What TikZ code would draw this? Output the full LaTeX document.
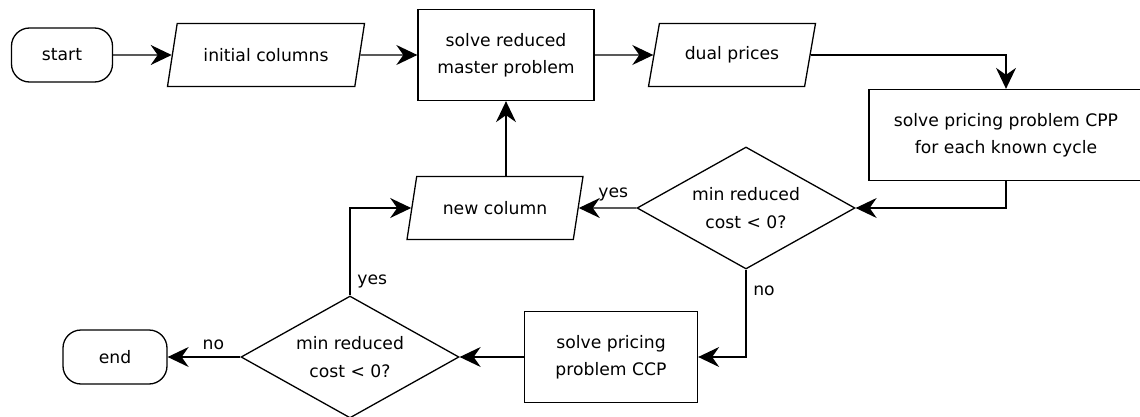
\documentclass[tikz,border=0pt]{standalone}
\usepackage{fontspec}
\setmainfont{DejaVu Sans}
\usetikzlibrary{shapes.geometric,arrows.meta,positioning}

\begin{document}
\begin{tikzpicture}[x=0.5pt, y=-0.5pt, line width=0.65pt,
  font=\fontsize{8.6}{13.7}\selectfont,
  terminal/.style = {draw, rounded corners=9pt, minimum width=50.5pt, minimum height=27pt},
  process/.style = {draw, minimum width=88pt, minimum height=45.5pt, align=center},
  io/.style = {draw, trapezium, trapezium left angle=70, trapezium right angle=110,
    trapezium stretches body, minimum height=31.5pt},
  decision/.style = {draw, diamond, aspect=1.8, inner sep=0pt, minimum width=109pt,
    minimum height=61pt, align=center},
  flow/.style = {-{Stealth[length=10.5pt, width=10pt, inset=3.5pt]}}]
\useasboundingbox (0,0) rectangle (1140,417);
\node [terminal] (start) at (62,55) {start};
\node [io, minimum width=98.5pt] (init) at (266,55) {initial columns};
\node [process] (master) at (506,55) {solve reduced\\master problem};
\node [io, minimum width=83.5pt] (dual) at (732,55) {dual prices};
\node [process, minimum width=137pt] (cpp) at (1006,135) {solve pricing problem CPP\\for each known cycle};
\node [decision] (dec1) at (746,208) {min reduced\\cost < 0?};
\node [io, minimum width=88pt] (newcol) at (495,208) {new column};
\node [process, minimum width=86.5pt] (ccp) at (611,357) {solve pricing\\problem CCP};
\node [decision] (dec2) at (350,357) {min reduced\\cost < 0?};
\node [terminal, minimum width=52pt] (end) at (115,357) {end};
\draw [flow] (start) -- (init);
\draw [flow] (init) -- (master);
\draw [flow] (master) -- (dual);
\draw [flow] (dual) -| (cpp);
\draw [flow] (cpp) |- (dec1);
\draw [flow] (dec1) -- node [above, pos=0.4] {yes} (newcol);
\draw [flow] (master |- newcol.north) -- (master);
\draw [flow] (dec1) |- node [right, pos=0.12] {no} (ccp);
\draw [flow] (ccp) -- (dec2);
\draw [flow] (dec2) -- node [above, pos=0.37] {no} (end);
\draw [flow] (dec2) |- node [right, pos=0.08] {yes} (newcol);
\end{tikzpicture}
\end{document}
